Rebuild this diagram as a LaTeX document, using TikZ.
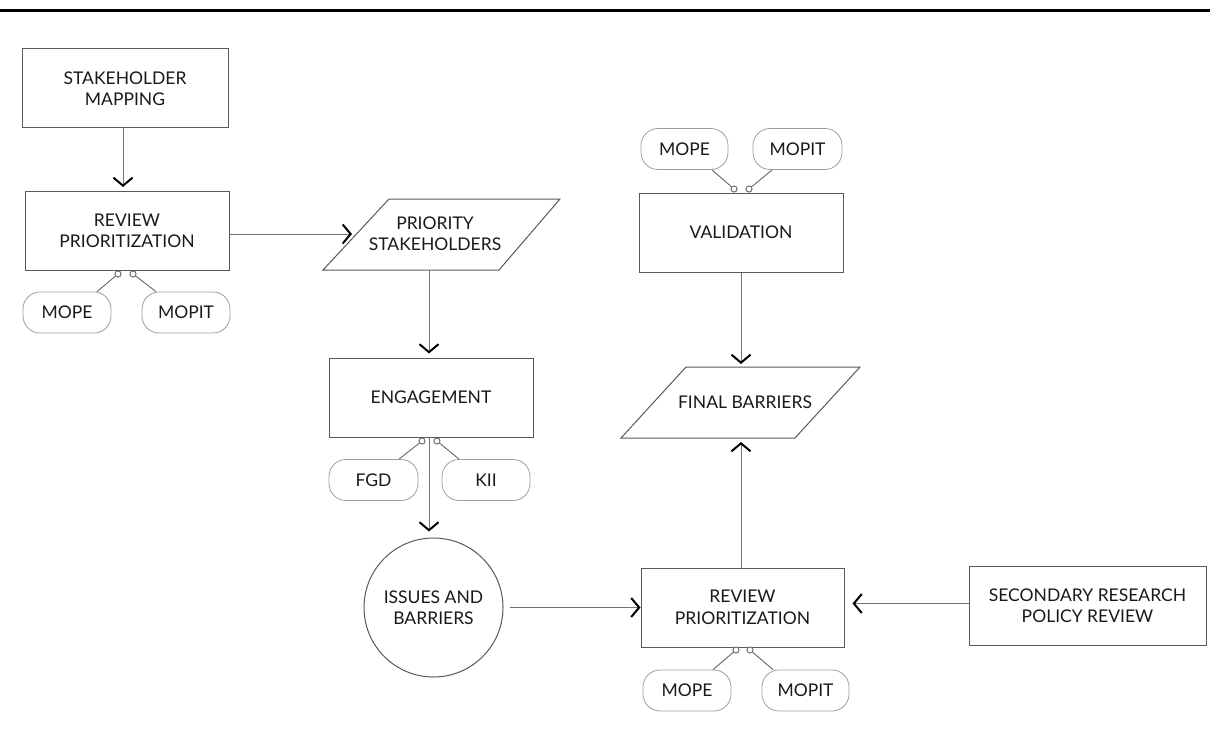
\documentclass[tikz,border=0pt]{standalone}
\usepackage{fontspec}
\setmainfont{Lato}
\usetikzlibrary{arrows.meta,calc}
\begin{document}
\begin{tikzpicture}[x=1pt,y=-1pt,
  every node/.style={font=\fontsize{17.5}{21.5}\selectfont, text=black!90, align=center},
  procbox/.style={rectangle, draw=black!65, line width=1pt, minimum width=204pt, minimum height=79pt, inner sep=0pt},
  pill/.style={rectangle, draw=black!38, line width=0.8pt, rounded corners=17pt, minimum width=88pt, minimum height=41pt, inner sep=0pt},
  roundnode/.style={circle, draw=black!65, line width=1pt, minimum size=139pt, inner sep=0pt},
  textonly/.style={inner sep=0pt},
  slanted/.style={draw=black!65, line width=1pt},
  dot/.style={circle, draw=black!60, fill=white, line width=0.8pt, minimum size=6pt, inner sep=0pt},
  flow/.style={draw=black!55, line width=1pt, -{Straight Barb[length=8pt, width=19pt, line width=2pt, color=black]}},
  link/.style={draw=black!60, line width=0.9pt}
]
\useasboundingbox (0,0) rectangle (1210,749);
\draw[line width=3pt] (0,11) -- (1210,11);

% left column
\node[procbox, minimum width=206pt] (sm) at (125,88.5) {STAKEHOLDER\\MAPPING};
\node[procbox] (rp1) at (127,231) {REVIEW\\PRIORITIZATION};
\node[pill] (mope1) at (67,312.5) {MOPE};
\node[pill] (mopit1) at (186,312.5) {MOPIT};
\node[dot] (d1a) at (118,274) {};
\node[dot] (d1b) at (133,274) {};

% priority stakeholders
\node[textonly] (ps) at (435,233.5) {PRIORITY\\STAKEHOLDERS};
\draw[slanted] ($(ps)+(-112,36.5)$) -- ($(ps)+(-46,-34.5)$) -- ($(ps)+(125,-34.5)$) -- ($(ps)+(64,36.5)$) -- cycle;
\coordinate (psW) at ($(ps)+(-83,0)$);
\coordinate (psS) at ($(ps)+(-6,36.5)$);

% engagement
\node[procbox] (eng) at (431,397.5) {ENGAGEMENT};
\node[pill, minimum width=89pt] (fgd) at (373.5,480) {FGD};
\node[pill] (kii) at (486,480) {KII};
\node[dot] (d2a) at (422,441) {};
\node[dot] (d2b) at (437,441) {};

% issues
\node[roundnode] (ib) at (433.5,607.5) {ISSUES AND\\BARRIERS};

% review 2
\node[procbox, minimum width=203pt] (rp2) at (742.5,607.5) {REVIEW\\PRIORITIZATION};
\node[pill] (mope2) at (687,690.5) {MOPE};
\node[pill, minimum width=87pt] (mopit2) at (805.5,690.5) {MOPIT};
\node[dot] (d3a) at (736,650) {};
\node[dot] (d3b) at (750,650) {};

% secondary research
\node[procbox, minimum width=237pt] (sec) at (1087.5,605.5) {SECONDARY RESEARCH\\POLICY REVIEW};

% validation
\node[procbox] (val) at (741,232.5) {VALIDATION};
\node[pill, minimum width=87pt] (mope3) at (684.5,149) {MOPE};
\node[pill, minimum width=89pt] (mopit3) at (797.5,149) {MOPIT};
\node[dot] (d4a) at (734,189) {};
\node[dot] (d4b) at (749,189) {};

% final barriers
\node[textonly] (fb) at (745,402.5) {FINAL BARRIERS};
\draw[slanted] ($(fb)+(-124,35.5)$) -- ($(fb)+(-59,-35.5)$) -- ($(fb)+(115,-35.5)$) -- ($(fb)+(50,35.5)$) -- cycle;
\coordinate (fbN) at ($(fb)+(-3,-35.5)$);
\coordinate (fbS) at ($(fb)+(-4,35.5)$);

% flows
\draw[flow, shorten >=4pt] ([xshift=-2pt]sm.south) -- ([xshift=-2pt]sm.south |- rp1.north);
\draw[flow] ([yshift=-3pt]rp1.east) -- ([yshift=-3pt]rp1.east -| psW);
\draw[flow, shorten >=4pt] (psS) -- (psS |- eng.north);
\draw[flow, shorten >=6pt] ([xshift=-2pt]eng.south) -- ([xshift=-2pt]eng.south |- ib.north);
\draw[flow] ([xshift=6pt]ib.east) -- (ib.east -| rp2.west);
\draw[flow, shorten >=8pt] ([yshift=2pt]sec.west) -- ([yshift=2pt]sec.west -| rp2.east);
\draw[flow, shorten >=4pt] (fbS |- rp2.north) -- (fbS);
\draw[flow, shorten >=3pt] (val.south) -- (val.south |- fbN);

% links
\draw[link] (d1a) -- ($(mope1.north)+(30,0)$);
\draw[link] (d1b) -- ($(mopit1.north)+(-30,0)$);
\draw[link] (d2a) -- ($(fgd.north)+(25.5,0)$);
\draw[link] (d2b) -- ($(kii.north)+(-27,0)$);
\draw[link] (d3a) -- ($(mope2.north)+(26,0)$);
\draw[link] (d3b) -- ($(mopit2.north)+(-32.5,0)$);
\draw[link] (d4a) -- ($(mope3.south)+(27.5,0)$);
\draw[link] (d4b) -- ($(mopit3.south)+(-25.5,0)$);
\node[dot] at (d1a) {};
\node[dot] at (d1b) {};
\node[dot] at (d2a) {};
\node[dot] at (d2b) {};
\node[dot] at (d3a) {};
\node[dot] at (d3b) {};
\node[dot] at (d4a) {};
\node[dot] at (d4b) {};
\end{tikzpicture}
\end{document}
